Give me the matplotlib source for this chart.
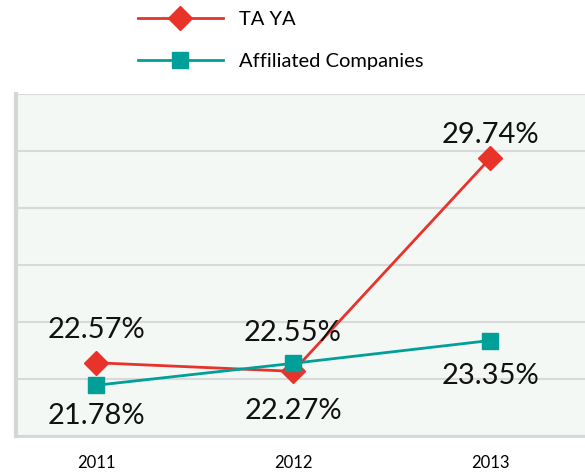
import matplotlib
matplotlib.use("Agg")
import matplotlib.pyplot as plt

years = ["2011", "2012", "2013"]
taya = [22.57, 22.27, 29.74]
affiliated = [21.78, 22.55, 23.35]
taya_labels = ["22.57%", "22.27%", "29.74%"]
aff_labels = ["21.78%", "22.55%", "23.35%"]

plt.rcParams['font.family'] = ['Lato', 'DejaVu Sans']

fig = plt.figure(figsize=(5.85, 4.73), dpi=100)
ax = fig.add_axes([0.0274, 0.0782, 0.9726, 0.7231])
ax.set_facecolor("#F3F8F5")

red = "#E8332B"
teal = "#00A098"
x = list(range(len(years)))

ax.plot(x, taya, color=red, lw=2, marker="D", markersize=12, label="TA YA", zorder=3)
ax.plot(x, affiliated, color=teal, lw=2, marker="s", markersize=12, label="Affiliated Companies", zorder=3)

ax.set_ylim(20, 32)
ax.set_yticks([20, 22, 24, 26, 28, 30, 32])
ax.set_yticklabels([])
ax.tick_params(axis="y", length=0)
ax.grid(axis="y", color="#D9D9D9", lw=1.5)
ax.set_axisbelow(True)

ax.set_xlim(-0.406, 2.482)
ax.set_xticks(x)
ax.set_xticklabels(years, fontsize=12)
ax.tick_params(axis="x", length=0, pad=14)

for s in ["top", "right"]:
    ax.spines[s].set_visible(False)
ax.spines["left"].set_color("#D6D6D6")
ax.spines["left"].set_linewidth(3)
ax.spines["bottom"].set_color("#D6D6D6")
ax.spines["bottom"].set_linewidth(2)

fs = 21
offsets_taya = [(0, 23.5), (0, -28.5), (0, 17)]
offsets_aff = [(0, -22), (0, 22), (0, -25.5)]
for i in x:
    dx, dy = offsets_taya[i]
    ax.annotate(taya_labels[i], (i, taya[i]), xytext=(dx, dy), textcoords="offset points",
                ha="center", va="center", fontsize=fs, color="#111111")
    dx, dy = offsets_aff[i]
    ax.annotate(aff_labels[i], (i, affiliated[i]), xytext=(dx, dy), textcoords="offset points",
                ha="center", va="center", fontsize=fs, color="#111111")

leg = fig.legend(loc="upper left", bbox_to_anchor=(0.205, 1.016), frameon=False,
                 fontsize=14.5, handlelength=4.2, labelspacing=1.25, handletextpad=0.8)

fig.savefig("out.png", dpi=100)
